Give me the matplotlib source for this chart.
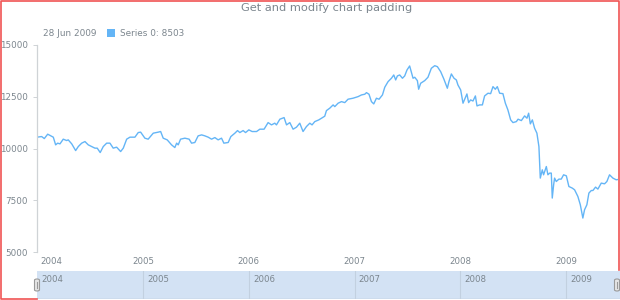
import matplotlib
matplotlib.use("Agg")
import matplotlib.pyplot as plt
from matplotlib.patches import Rectangle, FancyBboxPatch
import matplotlib.transforms as mtransforms

# ---------------- data ----------------
title = "Get and modify chart padding"
legend_date = "28 Jun 2009"
series_name = "Series 0"
last_value = 8503
year_ticks = [2004, 2005, 2006, 2007, 2008, 2009]
y_ticks = [5000, 7500, 10000, 12500, 15000]

# time as decimal years
t = [2004.000, 2004.044, 2004.069, 2004.101, 2004.132, 2004.154, 2004.176, 2004.195,
     2004.217, 2004.248, 2004.280, 2004.295, 2004.328, 2004.365, 2004.390, 2004.422,
     2004.453, 2004.484, 2004.516, 2004.547, 2004.569, 2004.597, 2004.626, 2004.658,
     2004.689, 2004.720, 2004.752, 2004.790, 2004.815, 2004.847, 2004.878, 2004.925,
     2004.956, 2004.979, 2005.019, 2005.050, 2005.098, 2005.145, 2005.168, 2005.192,
     2005.230, 2005.271, 2005.302, 2005.319, 2005.334, 2005.356, 2005.397, 2005.437,
     2005.460, 2005.491, 2005.522, 2005.555, 2005.586, 2005.617, 2005.649, 2005.680,
     2005.711, 2005.743, 2005.765, 2005.806, 2005.831, 2005.869, 2005.894, 2005.916,
     2005.947, 2005.970, 2006.001, 2006.032, 2006.074, 2006.105, 2006.145, 2006.183,
     2006.215, 2006.246, 2006.262, 2006.294, 2006.334, 2006.357, 2006.388, 2006.419,
     2006.451, 2006.482, 2006.513, 2006.545, 2006.577, 2006.598, 2006.624, 2006.662,
     2006.687, 2006.718, 2006.734, 2006.765, 2006.797, 2006.813, 2006.844, 2006.876,
     2006.907, 2006.938, 2006.985, 2007.033, 2007.065, 2007.096, 2007.112, 2007.136,
     2007.159, 2007.181, 2007.206, 2007.231, 2007.263, 2007.285, 2007.316, 2007.348,
     2007.370, 2007.388, 2007.404, 2007.426, 2007.452, 2007.473, 2007.495, 2007.520,
     2007.552, 2007.568, 2007.593, 2007.605, 2007.624, 2007.662, 2007.693, 2007.725,
     2007.757, 2007.782, 2007.813, 2007.844, 2007.876, 2007.891, 2007.914, 2007.939,
     2007.961, 2007.976, 2008.002, 2008.024, 2008.040, 2008.061, 2008.077, 2008.096,
     2008.118, 2008.141, 2008.156, 2008.181, 2008.207, 2008.228, 2008.260, 2008.285,
     2008.307, 2008.329, 2008.348, 2008.370, 2008.401, 2008.424, 2008.448, 2008.474,
     2008.496, 2008.528, 2008.544, 2008.575, 2008.606, 2008.628, 2008.644, 2008.660,
     2008.679, 2008.700, 2008.722, 2008.741, 2008.754, 2008.773, 2008.785, 2008.811,
     2008.826, 2008.842, 2008.858, 2008.867, 2008.880, 2008.889, 2008.905, 2008.930,
     2008.952, 2008.974, 2009.000, 2009.024, 2009.056, 2009.078, 2009.109, 2009.132,
     2009.156, 2009.172, 2009.194, 2009.213, 2009.236, 2009.251, 2009.276, 2009.298,
     2009.330, 2009.361, 2009.383, 2009.408, 2009.440, 2009.471, 2009.488]

values = [10547, 10577, 10480, 10692, 10610, 10547, 10176, 10258,
          10224, 10451, 10385, 10417, 10224, 9900, 10094, 10258,
          10335, 10176, 10094, 10017, 10017, 9805, 10094, 10258,
          10258, 10017, 10065, 9853, 10017, 10451, 10547, 10547,
          10770, 10790, 10499, 10451, 10740, 10790, 10820, 10499,
          10417, 10176, 10046, 10258, 10176, 10451, 10499, 10451,
          10258, 10290, 10610, 10658, 10610, 10547, 10451, 10528,
          10417, 10499, 10258, 10290, 10577, 10740, 10866, 10770,
          10866, 10770, 10900, 10820, 10820, 10933, 10933, 11252,
          11141, 11223, 11141, 11416, 11493, 11141, 11252, 10933,
          11030, 11223, 10820, 11059, 11223, 11141, 11300, 11383,
          11464, 11560, 11831, 11946, 12106, 12024, 12188, 12265,
          12217, 12381, 12429, 12506, 12588, 12622, 12699, 12622,
          12265, 12154, 12429, 12381, 12588, 12960, 13230, 13394,
          13553, 13312, 13505, 13553, 13394, 13505, 13794, 13987,
          13394, 13442, 13278, 12863, 13152, 13278, 13442, 13876,
          14001, 13953, 13712, 13345, 12911, 13230, 13601, 13394,
          13312, 13070, 12829, 12188, 12381, 12636, 12217, 12347,
          12294, 12540, 12057, 12106, 12106, 12540, 12670, 12650,
          12989, 12863, 12989, 12670, 12650, 12188, 11864, 11383,
          11252, 11300, 11416, 11348, 11575, 11464, 11705, 11189,
          11383, 10982, 10740, 10094, 8570, 8970, 8729, 9129,
          8729, 8811, 8811, 7605, 8246, 8570, 8406, 8521,
          8521, 8729, 8681, 8164, 8087, 8005, 7682, 7282,
          6640, 7040, 7282, 7846, 7971, 7971, 8135, 8039,
          8328, 8294, 8406, 8729, 8570, 8488, 8503]

# ---------------- style ----------------
W, H = 620, 300
text_col = "#7c868e"
line_col = "#64b5f6"
axis_col = "#cfd3d6"
red = "#f05454"

fig = plt.figure(figsize=(W / 100, H / 100), dpi=100)
fig.patch.set_facecolor("white")

def fx(px):
    return px / W

def fy(py):
    return 1 - py / H

x0, x1 = 37, 618
ytop, ybot = 45, 252
ax = fig.add_axes([fx(x0), fy(ybot), fx(x1) - fx(x0), fy(ytop) - fy(ybot)])
ax.plot(t, values, color=line_col, lw=1.0, solid_joinstyle="round")
ax.set_xlim(t[0], t[-1])
ax.set_ylim(5000, 15000)
for s in ["top", "right", "bottom"]:
    ax.spines[s].set_visible(False)
ax.spines["left"].set_color(axis_col)
ax.spines["left"].set_linewidth(0.9)
ax.set_yticks(y_ticks)
ax.set_yticklabels([str(v) for v in y_ticks])
ax.tick_params(axis="y", length=3, width=0.7, color=axis_col, pad=3.5,
               labelsize=6.3, labelcolor=text_col)
ax.set_xticks(year_ticks)
ax.set_xticklabels([str(y) for y in year_ticks])
ax.tick_params(axis="x", length=0, pad=3.5, labelsize=6.2, labelcolor=text_col)
lbl0 = ax.get_xticklabels()[0]
lbl0.set_ha("left")
lbl0.set_transform(lbl0.get_transform() +
                   mtransforms.ScaledTranslation(3 / 100, 0, fig.dpi_scale_trans))

# title
fig.text(fx(327), fy(8), title, ha="center", va="center", fontsize=8.2, color=text_col)

# legend
fig.text(fx(43), fy(33), legend_date, ha="left", va="center", fontsize=6.4, color=text_col)
fig.patches.append(Rectangle((fx(107), fy(37)), fx(8), 8 / H, transform=fig.transFigure,
                             facecolor=line_col, edgecolor="none"))
fig.text(fx(120), fy(33), f"{series_name}: {last_value}", ha="left", va="center",
         fontsize=6.4, color=text_col)

# scroller
sc_top, sc_bot = 271, 299
sax = fig.add_axes([fx(x0), fy(sc_bot), fx(x1 + 2) - fx(x0), fy(sc_top) - fy(sc_bot)])
sax.set_facecolor("#d3e2f4")
sax.set_xlim(t[0], t[-1] + (t[-1] - t[0]) * 2 / 581)
sax.set_ylim(0, 1)
sax.set_xticks([])
sax.set_yticks([])
for s in sax.spines.values():
    s.set_visible(False)
sax.axhline(0, color="#b9c6d4", lw=1.0)
for i, y in enumerate(year_ticks):
    if i > 0:
        sax.axvline(y, color="#c2d0e0", lw=0.8)
    xpos = max(y, t[0])
    sax.annotate(str(y), xy=(xpos, 1), xytext=(3, -3), textcoords="offset points",
                 ha="left", va="top", fontsize=6.2, color=text_col)

# scroller handles
for hx in (37, 617):
    fig.patches.append(FancyBboxPatch((fx(hx - 2.5), fy(291)), fx(5), 12 / H,
                                      boxstyle="round,pad=0,rounding_size=0.004",
                                      transform=fig.transFigure, facecolor="#e6e6e6",
                                      edgecolor="#9a9a9a", lw=0.8, zorder=5))
    fig.lines.append(plt.Line2D([fx(hx), fx(hx)], [fy(288), fy(282)],
                                transform=fig.transFigure, color="#9a9a9a", lw=0.8, zorder=6))

# outer red frame (bottom edge hidden by the scroller)
frame_x = [fx(37), fx(0.6), fx(0.6), fx(618.6), fx(618.6)]
frame_y = [fy(299.4), fy(299.4), fy(0.6), fy(0.6), fy(270)]
fig.lines.append(plt.Line2D(frame_x, frame_y, transform=fig.transFigure,
                            color=red, lw=1.2, zorder=10))

fig.savefig("out.png", dpi=100)
